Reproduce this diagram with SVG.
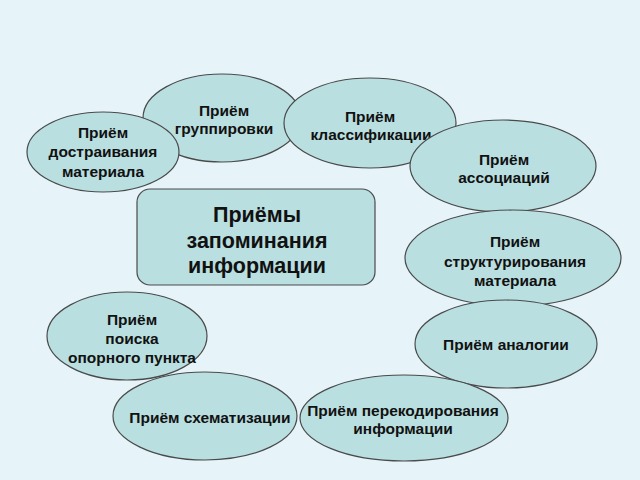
<svg xmlns="http://www.w3.org/2000/svg" width="640" height="480" viewBox="0 0 640 480">
<style>
.n{fill:#b9dfe0;stroke:#4a4a4a;stroke-width:1.2}
.t{font-family:"Liberation Sans",Arial,sans-serif;font-weight:bold;font-size:15.5px;fill:#111;text-anchor:middle}
.c{font-family:"Liberation Sans",Arial,sans-serif;font-weight:bold;font-size:21.5px;fill:#111;text-anchor:middle}
</style>
<rect width="640" height="480" fill="#e6f4fa"/>
<g id="gruppirovki"><ellipse class="n" cx="222" cy="118" rx="79" ry="44"/><text class="t" x="224" y="116">Приём</text><text class="t" x="224" y="134">группировки</text></g>
<g id="dostraivaniya"><ellipse class="n" cx="103" cy="152" rx="76" ry="40"/><text class="t" x="103" y="138">Приём</text><text class="t" x="103" y="157">достраивания</text><text class="t" x="103" y="177">материала</text></g>
<g id="klassifikacii"><ellipse class="n" cx="370" cy="123" rx="86" ry="45"/><text class="t" x="370" y="122">Приём</text><text class="t" x="371" y="140">классификации</text></g>
<g id="associaciy"><ellipse class="n" cx="503" cy="166" rx="93" ry="46"/><text class="t" x="504" y="165">Приём</text><text class="t" x="504" y="183">ассоциаций</text></g>
<g id="strukturirovaniya"><ellipse class="n" cx="513" cy="258" rx="108" ry="48"/><text class="t" x="515" y="247">Приём</text><text class="t" x="515" y="267">структурирования</text><text class="t" x="515" y="286">материала</text></g>
<g id="analogii"><ellipse class="n" cx="506" cy="344" rx="91" ry="44"/><text class="t" x="506" y="350">Приём аналогии</text></g>
<g id="perekodirovaniya"><ellipse class="n" cx="404" cy="418" rx="104" ry="43"/><text class="t" x="403" y="416">Приём перекодирования</text><text class="t" x="403" y="434">информации</text></g>
<g id="poiska"><ellipse class="n" cx="127" cy="336" rx="80" ry="44"/><text class="t" x="132" y="325">Приём</text><text class="t" x="132" y="344">поиска</text><text class="t" x="132" y="363">опорного пункта</text></g>
<g id="skhematizacii"><ellipse class="n" cx="205" cy="416" rx="92" ry="44"/><text class="t" x="210" y="423">Приём схематизации</text></g>
<g id="center"><rect class="n" x="137" y="189" width="238" height="96" rx="13" ry="13"/><text class="c" x="257" y="222">Приёмы</text><text class="c" x="257" y="248">запоминания</text><text class="c" x="257" y="273">информации</text></g>
</svg>
